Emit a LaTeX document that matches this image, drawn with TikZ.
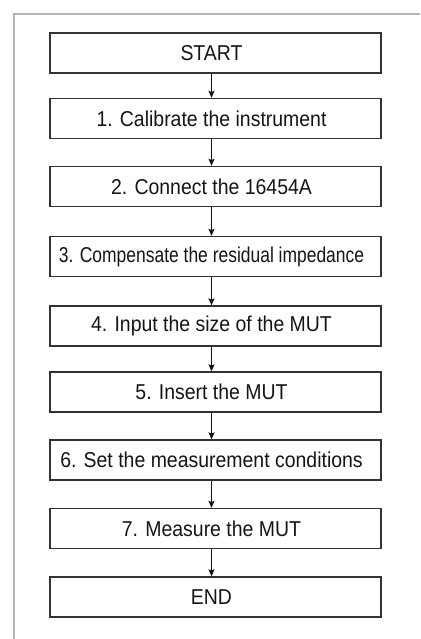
\documentclass[tikz,border=0pt]{standalone}
\usepackage{fontspec}
\setmainfont[FakeStretch=0.905]{Liberation Sans}
\usetikzlibrary{arrows.meta}
\definecolor{framegray}{HTML}{B3B3B3}
\definecolor{boxline}{HTML}{333333}
\definecolor{txt}{HTML}{151515}
\newcommand{\sh}{\hspace*{-8pt}}
\begin{document}
\begin{tikzpicture}[x=1pt,y=1pt,
  stepbox/.style={draw=boxline, line width=1.3pt, minimum width=331pt, minimum height=40pt,
    inner sep=0pt, text=txt, font=\fontsize{21.5}{25}\selectfont},
  flow/.style={draw=txt, line width=1pt, -{Stealth[length=7pt,width=6pt,inset=1.2pt]}}]
\useasboundingbox (0,0) rectangle (420,639);
\fill[white] (0,0) rectangle (420,639);
\draw[framegray, line width=1.5pt] (14,0) -- (14,625) -- (420,625);
\node[stepbox] (s)  at (215.5,586)   {\sh START};
\node[stepbox] (b1) at (215.5,520.5) {\sh 1. Calibrate the instrument};
\node[stepbox] (b2) at (215.5,452.5) {\sh 2. Connect the 16454A};
\node[stepbox] (b3) at (215.5,382.5) {\sh\scalebox{0.897}[1]{3. Compensate the residual impedance}};
\node[stepbox] (b4) at (215.5,313)   {\sh 4. Input the size of the MUT};
\node[stepbox] (b5) at (215.5,247)   {\sh 5. Insert the MUT};
\node[stepbox] (b6) at (215.5,179)   {\sh 6. Set the measurement conditions};
\node[stepbox] (b7) at (215.5,110.5) {\sh 7. Measure the MUT};
\node[stepbox] (e)  at (215.5,42)    {\sh END};
\foreach \a/\b in {s/b1,b1/b2,b2/b3,b3/b4,b4/b5,b5/b6,b6/b7,b7/e}
  \draw[flow] ([xshift=-4pt]\a.south) -- ([xshift=-4pt]\b.north);
\end{tikzpicture}
\end{document}
